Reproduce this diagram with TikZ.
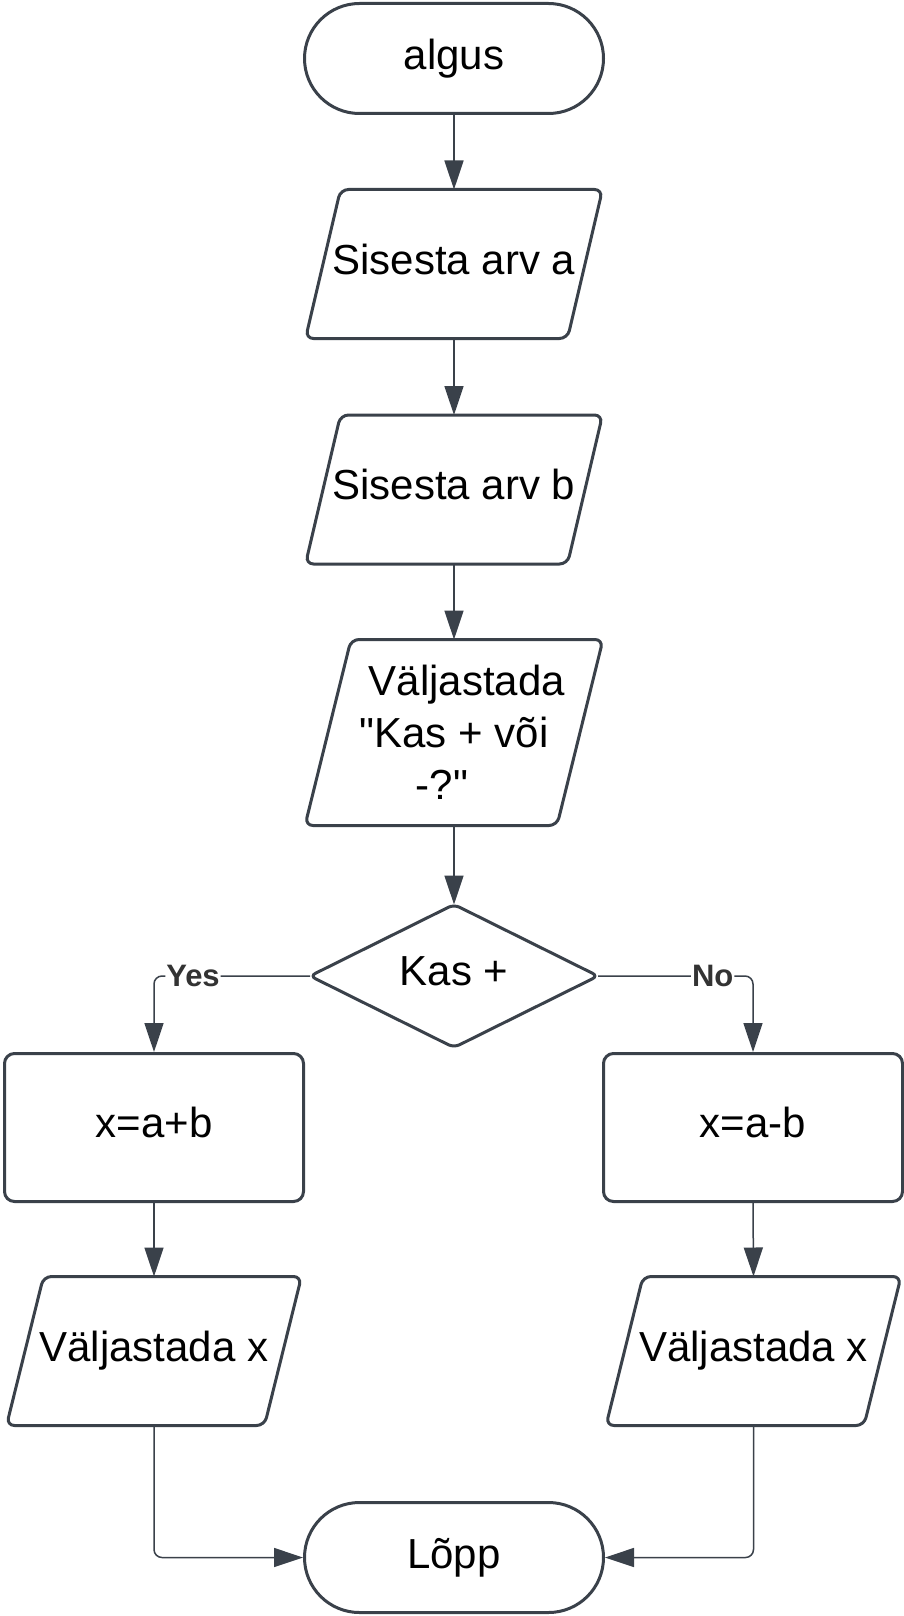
\documentclass[tikz,border=0pt]{standalone}
\usepackage{fontspec}
\setmainfont{Liberation Sans}[Ligatures=TeXOff]
\usetikzlibrary{arrows.meta,calc}
\definecolor{lucid}{HTML}{3A414A}
\definecolor{lbltext}{HTML}{333333}
\newcommand\mainfont{\fontsize{42}{52}\selectfont}
\newcommand\up[1]{\raisebox{5pt}[\height][\depth]{#1}}
\newcommand\drawpara[2]{%
  \draw[shapeline] ($(#1.south west)+(-#2,0)$) -- ($(#1.north west)+(#2,0)$) -- ($(#1.north east)+(#2,0)$) -- ($(#1.south east)+(-#2,0)$) -- cycle;}
\tikzset{
  shapeline/.style={draw=lucid, line width=3pt, rounded corners=8pt},
  base/.style={draw=lucid, line width=3pt, fill=white, font=\mainfont, text=black, inner sep=0pt},
  term/.style={base, rounded corners=55pt, minimum width=299pt, minimum height=110pt},
  proc/.style={base, rounded corners=10pt, minimum width=299pt, minimum height=148pt},
  txt/.style={font=\mainfont, text=black, inner sep=0pt, outer sep=0pt, align=center},
  conn/.style={draw=lucid, line width=1.5pt, rounded corners=8pt, -{Triangle[length=29pt,width=19pt]}},
  lbl/.style={fill=white, text=lbltext, font=\bfseries\fontsize{31}{36}\selectfont, inner sep=1pt},
}
\begin{document}
\begin{tikzpicture}[x=1pt,y=-1pt]
\fill[white] (0,0) rectangle (904,1616);
\useasboundingbox (0,0) rectangle (904,1616);

\node[term] (start) at (454,58.5) {algus};

\node[txt, minimum width=262pt, minimum height=149pt] (pa) at (454,264) {\up{Sisesta arv a}};
\drawpara{pa}{17.5}

\node[txt, minimum width=262pt, minimum height=149pt] (pb) at (454,489.5) {\up{Sisesta arv b}};
\drawpara{pb}{17.5}

\node[txt, minimum width=252pt, minimum height=186pt] (pc) at (454,732.5)
  {\hspace*{26pt}Väljastada\\"Kas + või\\-?"\hspace*{24pt}};
\drawpara{pc}{23}

\node[txt, minimum width=288pt, minimum height=143pt] (d) at (454,976) {\up{Kas +}};
\draw[shapeline, rounded corners=6pt] (d.north) -- (d.east) -- (d.south) -- (d.west) -- cycle;

\node[proc] (b1) at (154,1127.5) {\up{x=a+b}};
\node[proc] (b2) at (753,1127.5) {\up{x=a-b}};

\node[txt, minimum width=258pt, minimum height=149pt] (o1) at (154,1351) {Väljastada x};
\drawpara{o1}{18.5}
\node[txt, minimum width=258pt, minimum height=149pt] (o2) at (753.5,1351) {Väljastada x};
\drawpara{o2}{18.5}

\node[term] (end) at (454,1557.5) {Lõpp};

\draw[conn] (start.south) -- (pa.north);
\draw[conn] (pa.south) -- (pb.north);
\draw[conn] (pb.south) -- (pc.north);
\draw[conn] (pc.south) -- (d.north);
\draw[conn] (d.west) -| node[lbl, pos=0.375] {Yes} (b1.north);
\draw[conn] (d.east) -| node[lbl, pos=0.37] {No} (b2.north);
\draw[conn] (b1.south) -- (o1.north);
\draw[conn] (b2.south) -- (o2.north);
\draw[conn] (o1.south) |- (end.west);
\draw[conn] (o2.south) |- (end.east);
\end{tikzpicture}
\end{document}
